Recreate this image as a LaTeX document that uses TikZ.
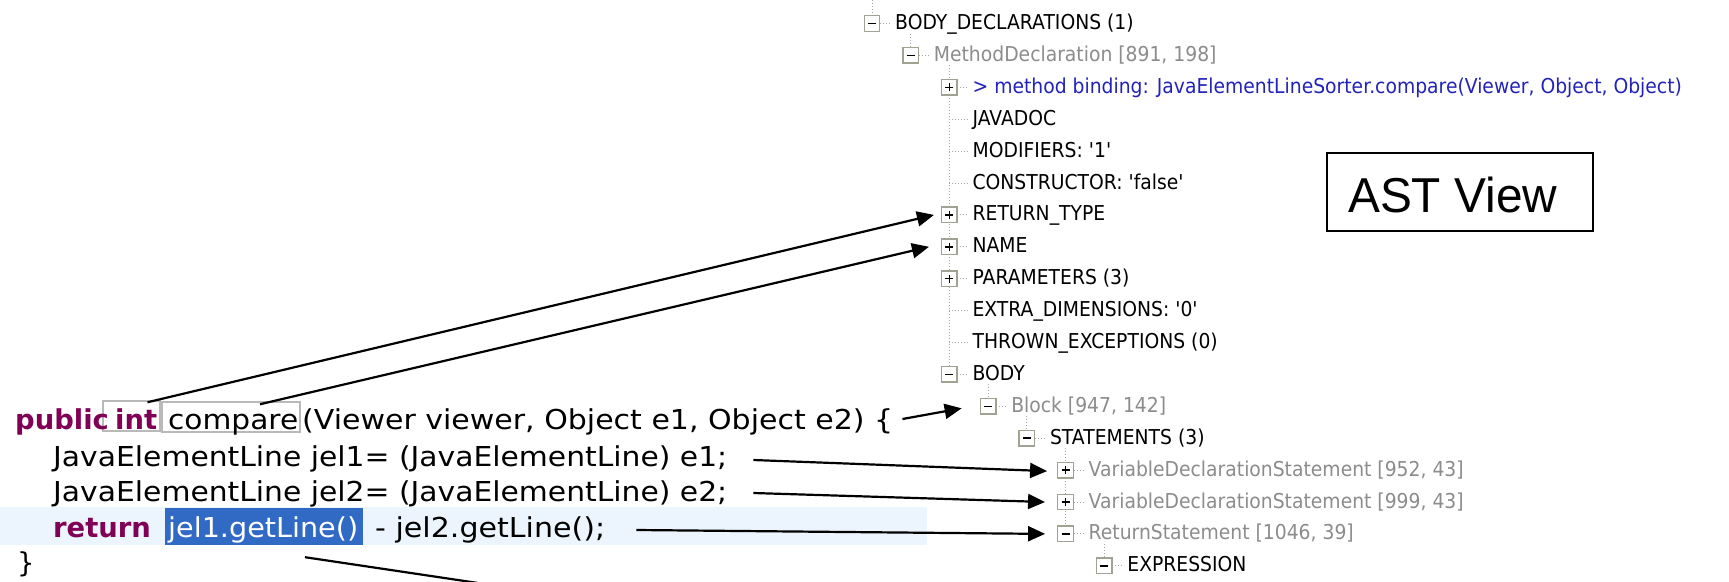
\documentclass[tikz,border=0pt]{standalone}
\usepackage{fontspec}
\setmainfont{DejaVu Sans}
\newfontfamily\treefont{DejaVu Sans}[Ligatures=TeXOff]
\newfontfamily\astfont{Liberation Sans}
\usepackage{graphicx}
\usetikzlibrary{arrows.meta,calc}
\definecolor{kw}{RGB}{127,0,85}
\definecolor{treegray}{RGB}{140,140,140}
\definecolor{treeblue}{RGB}{35,35,185}
\definecolor{boxc}{RGB}{160,163,145}
\definecolor{dotc}{RGB}{165,165,165}
\definecolor{bandc}{RGB}{236,244,253}
\definecolor{selc}{RGB}{49,106,197}
\definecolor{cboxc}{RGB}{185,185,185}
\newcommand\tsc[1]{\scalebox{0.915}[1]{#1}}
\newcommand\fitw[2]{\resizebox{#1pt}{\height}{#2}}
\newcommand\trow[5]{%
  \pgfmathsetmacro\ry{23.5+31.9*#1}%
  \pgfmathsetmacro\bx{872+38.7*#2}%
  \if n#3%
    \draw[tline] (\bx,\ry) -- (\bx+19,\ry);%
  \else
    \draw[tline] (\bx+8,\ry) -- (\bx+19,\ry);%
    \node[tbox] (b#1) at (\bx,\ry) {};%
    \draw[sign] (\bx-4,\ry) -- (\bx+4,\ry);%
    \if p#3\draw[sign] (\bx,\ry-4) -- (\bx,\ry+4);\fi
  \fi
  \node[tlabel,text=#4,anchor=base west] (t#1) at (\bx+23,\ry+6) {\tsc{#5}};%
}
\begin{document}
\begin{tikzpicture}[x=1pt,y=-1pt,
  tline/.style={draw=dotc,line width=1pt,dash pattern=on 1pt off 2pt},
  tbox/.style={draw=boxc,fill=white,line width=1.4pt,minimum size=15.5pt,inner sep=0pt},
  sign/.style={draw=black,line width=1.5pt},
  tlabel/.style={inner sep=0pt,font=\treefont\fontsize{20.5}{23}\selectfont},
  code/.style={inner sep=0pt,anchor=base west,font=\fontsize{27.4}{30}\selectfont},
  kwd/.style={code,text=kw,font=\bfseries\fontsize{27.4}{30}\selectfont},
  cbox/.style={draw=cboxc,line width=1.5pt,inner sep=0pt},
  arr/.style={draw=black,line width=2.2pt,-{Triangle[length=17pt,width=15pt]}},
  ln/.style={draw=black,line width=2.2pt}]
\clip (0,0) rectangle (1729,581);
\fill[white] (0,0) rectangle (1729,581);
% ---------- code editor ----------
\node[fill=bandc,minimum width=927pt,minimum height=38pt,inner sep=0pt] (band) at (463.5,526) {};
\node[fill=selc,minimum width=198pt,minimum height=37pt,inner sep=0pt] (sel) at (264,526.5) {};
\node[cbox,minimum width=57pt,minimum height=30pt] (intbox) at (131.5,416) {};
\node[cbox,minimum width=138pt,minimum height=30pt] (cmpbox) at (231,417) {};
\node[kwd] (l1a) at (15,429) {public};
\node[kwd] (l1b) at (115,429) {int};
\node[code] (l1cmp) at (168,429) {\fitw{130}{compare}};
\node[code] (l1c) at (302,429) {\fitw{591}{(Viewer viewer, Object e1, Object e2) \{}};
\node[code] (l2) at (53,466) {\fitw{674}{JavaElementLine jel1= (JavaElementLine) e1;}};
\node[code] (l3) at (53,501) {\fitw{674}{JavaElementLine jel2= (JavaElementLine) e2;}};
\node[kwd] (l4a) at (53,537) {return};
\node[code,text=white] (l4b) at (168,537) {\fitw{190}{jel1.getLine()}};
\node[code] (l4c) at (375,537) {\fitw{230}{- jel2.getLine();}};
\node[code] (l5) at (17,572) {\}};
% ---------- AST view tree ----------
\draw[tline] (872,0) -- (872,23.5);
\draw[tline] (910.7,33.5) -- (910.7,55.4);
\draw[tline] (949.4,65.4) -- (949.4,374.4);
\draw[tline] (988.1,384.4) -- (988.1,406.3);
\draw[tline] (1026.8,416.3) -- (1026.8,438.2);
\draw[tline] (1065.5,448.2) -- (1065.5,533.9);
\draw[tline] (1104.2,543.9) -- (1104.2,565.8);
\trow{0}{0}{m}{black}{BODY\_DECLARATIONS (1)}
\trow{1}{1}{m}{treegray}{MethodDeclaration [891, 198]}
\trow{2}{2}{p}{treeblue}{> method binding: JavaElementLineSorter.compare(Viewer, Object, Object)}
\trow{3}{2}{n}{black}{JAVADOC}
\trow{4}{2}{n}{black}{MODIFIERS: '1'}
\trow{5}{2}{n}{black}{CONSTRUCTOR: 'false'}
\trow{6}{2}{p}{black}{RETURN\_TYPE}
\trow{7}{2}{p}{black}{NAME}
\trow{8}{2}{p}{black}{PARAMETERS (3)}
\trow{9}{2}{n}{black}{EXTRA\_DIMENSIONS: '0'}
\trow{10}{2}{n}{black}{THROWN\_EXCEPTIONS (0)}
\trow{11}{2}{m}{black}{BODY}
\trow{12}{3}{m}{treegray}{Block [947, 142]}
\trow{13}{4}{m}{black}{STATEMENTS (3)}
\trow{14}{5}{p}{treegray}{VariableDeclarationStatement [952, 43]}
\trow{15}{5}{p}{treegray}{VariableDeclarationStatement [999, 43]}
\trow{16}{5}{m}{treegray}{ReturnStatement [1046, 39]}
\trow{17}{6}{m}{black}{EXPRESSION}
% ---------- label box ----------
\node[draw=black,line width=2pt,minimum width=266pt,minimum height=78pt,inner sep=0pt] (astbox) at (1460,192) {};
\node[inner sep=0pt,anchor=base west,font=\astfont\fontsize{49}{52}\selectfont] (astlbl) at (1348,212) {\fitw{209}{AST View}};
% ---------- connectors ----------
\draw[arr] ($(intbox.north)+(16,2)$) -- ($(b6.west)+(-7,0)$);
\draw[arr] ($(cmpbox.north)+(29,3)$) -- ($(b7.west)+(-12,0)$);
\draw[arr] ($(l1c.base east)+(9,-10)$) -- ($(b12.west)+(-18,2)$);
\draw[arr] ($(l2.base east)+(26,-6)$) -- ($(b14.west)+(-10,1)$);
\draw[arr] ($(l3.base east)+(26,-8)$) -- ($(b15.west)+(-12,0)$);
\draw[arr] ($(l4c.base east)+(31,-7)$) -- ($(b16.west)+(-12,0)$);
\coordinate (offb) at (478,583);
\draw[ln] ($(sel.south)+(41,12)$) -- (offb);
\end{tikzpicture}
\end{document}
